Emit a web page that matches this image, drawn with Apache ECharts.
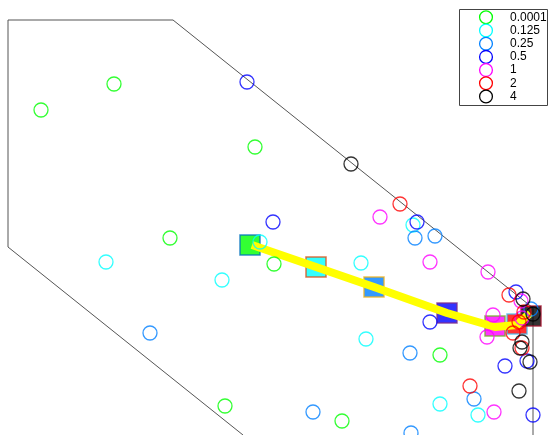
<!DOCTYPE html>
<html>
<head>
<meta charset="utf-8">
<script src="https://cdn.jsdelivr.net/npm/echarts@6/dist/echarts.min.js"></script>
<style>html,body{margin:0;padding:0;background:#fff;}#c{width:548px;height:435px;}</style>
</head>
<body>
<div id="c"></div>
<script>
// Legend labels / series names
var names = ['0.0001', '0.125', '0.25', '0.5', '1', '2', '4'];
var colors = ['#00ff00', '#00ffff', '#0080ff', '#0000ff', '#ff00ff', '#ff0000', '#000000'];

// Scattered trial points per level (x, y in plot units, y downwards)
var pts0001 = [[41,110],[114,84],[255,147],[170,238],[274,264],[225,406],[342,421],[440,355]];
var pts0125 = [[106,262],[222,280],[260,242],[361,263],[366,339],[413,225],[440,404],[478,415]];
var pts025  = [[150,333],[415,238],[435,236],[410,353],[474,399],[313,412],[411,433],[531,309]];
var pts05   = [[247,82],[273,222],[417,222],[430,322],[505,366],[516,292],[527,361],[533,415]];
var pts1    = [[380,217],[430,262],[488,272],[494,412],[487,337],[493,315],[521,301],[522,318]];
var pts2    = [[400,204],[470,386],[509,295],[513,333],[522,348],[524,312],[519,322]];
var pts4    = [[351,164],[519,391],[522,342],[520,348],[530,362],[523,299],[533,314]];

// Mean position per level (squares) and mean path (yellow)
var means = [[250,245],[316,267],[374,287],[447,313],[495,326],[517,324],[531,316]];
var meanEdge = ['#0072BD','#D95319','#EDB120','#7E2F8E','#77AC30','#4DBEEE','#A2142F'];
var path = [[252,245],[316,267],[374,287],[447,313],[495,327],[517,325],[530,313]];

// Boundary outline
var boundary = [[243,435],[8,247],[8,20],[173,20],[533,308],[533,435]];

var allPts = [pts0001, pts0125, pts025, pts05, pts1, pts2, pts4];

var series = [];
series.push({
  type: 'line', data: boundary, showSymbol: false, symbol: 'none', silent: true,
  lineStyle: { color: '#555', width: 1 }, z: 1, animation: false
});
series.push({
  type: 'scatter', name: 'means', symbol: 'rect', symbolSize: 20,
  data: means.map(function (p, i) {
    return { value: p, itemStyle: { color: colors[i], borderColor: meanEdge[i], borderWidth: 1.5 } };
  }),
  z: 2, animation: false, silent: true
});
series.push({
  type: 'line', data: path, showSymbol: false, symbol: 'none', silent: true,
  lineStyle: { color: '#ffff00', width: 8, join: 'round' }, z: 3, animation: false
});
names.forEach(function (n, i) {
  series.push({
    type: 'scatter', name: n, symbol: 'circle', symbolSize: 14,
    data: allPts[i],
    itemStyle: { color: 'rgba(0,0,0,0)', borderColor: colors[i], borderWidth: 1.3 },
    z: 4, animation: false
  });
});

// Legend box drawn as graphic elements
var legendEls = [{
  type: 'rect', left: 459, top: 9, z: 100,
  shape: { width: 88, height: 96 },
  style: { fill: '#fff', stroke: '#444', lineWidth: 1 }
}];
names.forEach(function (n, i) {
  var cy = 17.3 + i * 13.2;
  legendEls.push({
    type: 'circle', z: 101,
    shape: { cx: 486, cy: cy, r: 6.4 },
    style: { fill: 'none', stroke: colors[i], lineWidth: 1.3 }
  });
  legendEls.push({
    type: 'text', z: 101, x: 510, y: cy,
    style: { text: n, fill: '#000', font: '12px "Liberation Sans", Arial, sans-serif', textVerticalAlign: 'middle', verticalAlign: 'middle' }
  });
});

var chart = echarts.init(document.getElementById('c'));
chart.setOption({
  animation: false,
  backgroundColor: '#fff',
  grid: { left: 0, right: 0, top: 0, bottom: 0 },
  xAxis: { type: 'value', min: 0, max: 548, show: false },
  yAxis: { type: 'value', min: 0, max: 435, inverse: true, show: false },
  graphic: legendEls,
  series: series
});
</script>
</body>
</html>
